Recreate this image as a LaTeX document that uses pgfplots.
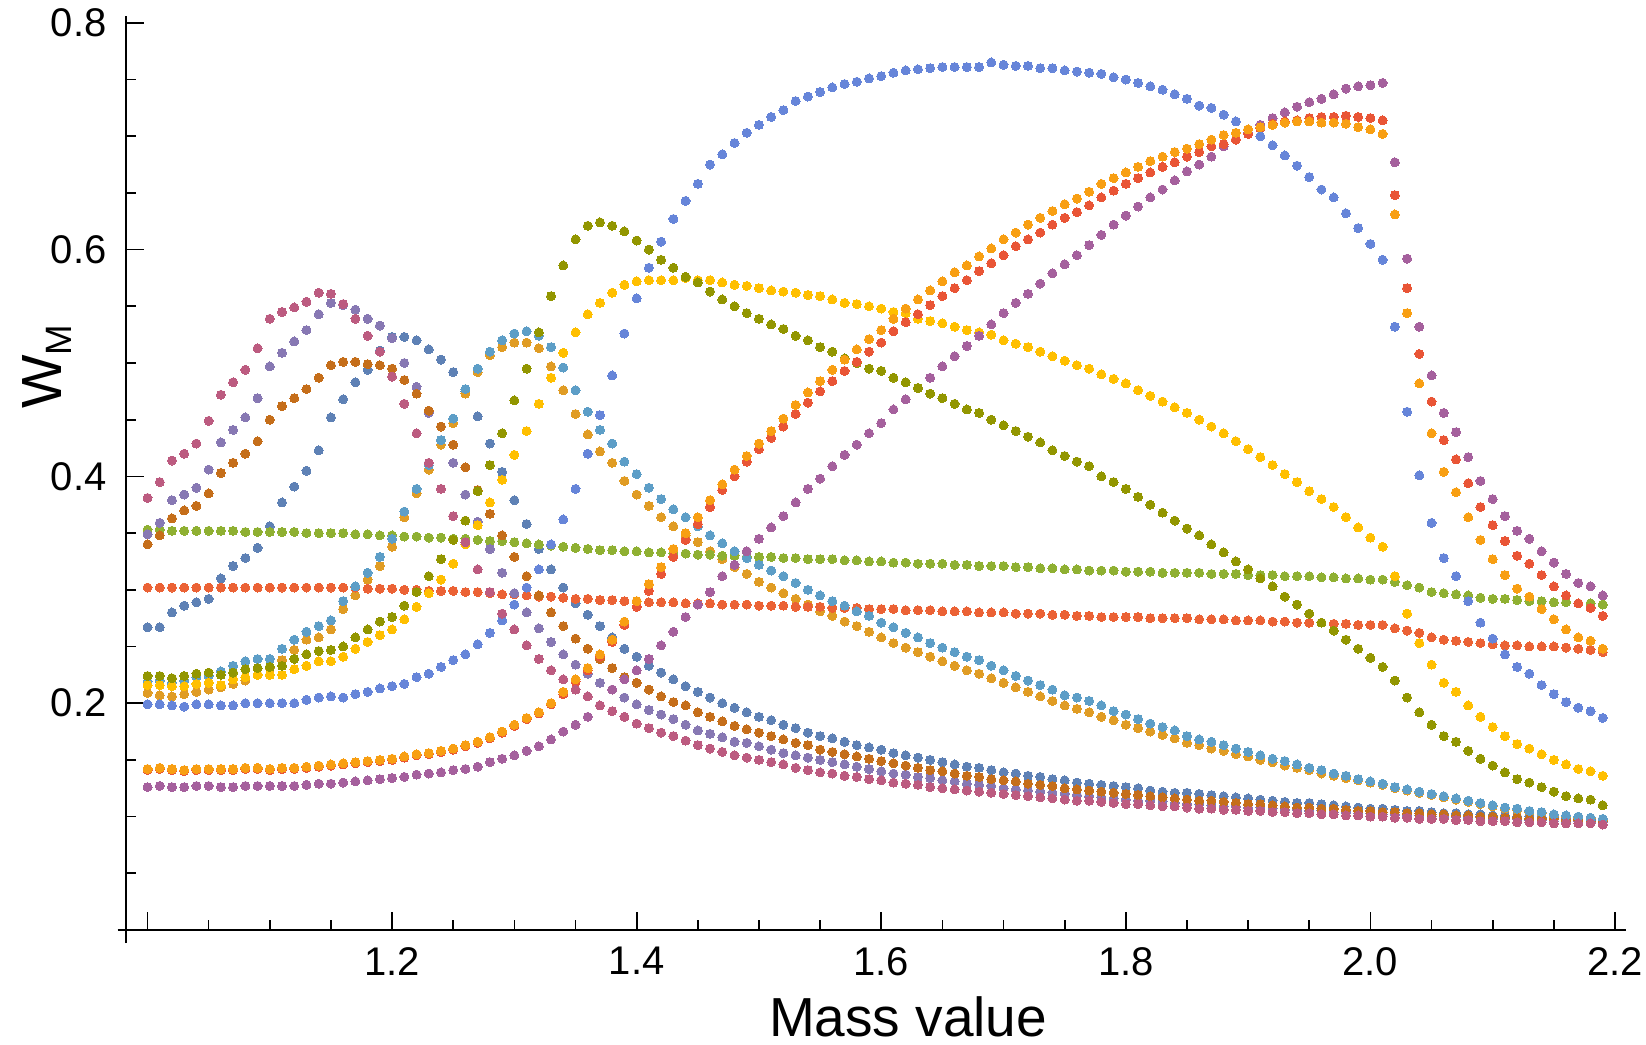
\documentclass[border=0pt]{standalone}
\usepackage{pgfplots}
\pgfplotsset{compat=1.18}
\usepackage{pgfplotstable}
\usepackage{fontspec}
\setmainfont{Liberation Sans}
\definecolor{c1}{HTML}{5E81B5}
\definecolor{c2}{HTML}{E09C24}
\definecolor{c3}{HTML}{8FB032}
\definecolor{c4}{HTML}{EB6235}
\definecolor{c5}{HTML}{8778B3}
\definecolor{c6}{HTML}{C56E1A}
\definecolor{c7}{HTML}{5D9EC7}
\definecolor{c8}{HTML}{FFBF00}
\definecolor{c9}{HTML}{A5609D}
\definecolor{c10}{HTML}{929600}
\definecolor{c11}{HTML}{E95536}
\definecolor{c12}{HTML}{6685D9}
\definecolor{c13}{HTML}{F89F13}
\definecolor{c14}{HTML}{BC5B80}

\pgfplotstableread[header=false]{
x 1.00 1.01 1.02 1.03 1.04 1.05 1.06 1.07 1.08 1.09 1.10 1.11 1.12 1.13 1.14 1.15 1.16 1.17 1.18 1.19 1.20 1.21 1.22 1.23 1.24 1.25 1.26 1.27 1.28 1.29 1.30 1.31 1.32 1.33 1.34 1.35 1.36 1.37 1.38 1.39 1.40 1.41 1.42 1.43 1.44 1.45 1.46 1.47 1.48 1.49 1.50 1.51 1.52 1.53 1.54 1.55 1.56 1.57 1.58 1.59 1.60 1.61 1.62 1.63 1.64 1.65 1.66 1.67 1.68 1.69 1.70 1.71 1.72 1.73 1.74 1.75 1.76 1.77 1.78 1.79 1.80 1.81 1.82 1.83 1.84 1.85 1.86 1.87 1.88 1.89 1.90 1.91 1.92 1.93 1.94 1.95 1.96 1.97 1.98 1.99 2.00 2.01 2.02 2.03 2.04 2.05 2.06 2.07 2.08 2.09 2.10 2.11 2.12 2.13 2.14 2.15 2.16 2.17 2.18 2.19
A 0.381 0.395 0.414 0.420 0.429 0.449 0.472 0.483 0.494 0.513 0.539 0.545 0.549 0.554 0.562 0.561 0.552 0.539 0.524 0.510 0.488 0.464 0.438 0.412 0.389 0.365 0.342 0.318 0.298 0.279 0.265 0.251 0.239 0.229 0.221 0.212 0.206 0.198 0.193 0.188 0.182 0.178 0.174 0.171 0.167 0.163 0.160 0.157 0.154 0.152 0.150 0.148 0.146 0.143 0.141 0.139 0.138 0.136 0.135 0.133 0.132 0.130 0.129 0.128 0.126 0.125 0.124 0.123 0.122 0.121 0.120 0.119 0.118 0.117 0.116 0.115 0.114 0.114 0.113 0.112 0.111 0.111 0.110 0.109 0.109 0.108 0.107 0.107 0.106 0.106 0.105 0.105 0.104 0.104 0.103 0.103 0.102 0.102 0.101 0.101 0.100 0.100 0.099 0.099 0.098 0.098 0.098 0.097 0.097 0.096 0.096 0.096 0.095 0.095 0.095 0.094 0.094 0.094 0.094 0.093
B 0.349 0.359 0.379 0.384 0.390 0.406 0.430 0.441 0.452 0.469 0.497 0.509 0.519 0.529 0.543 0.553 0.551 0.547 0.539 0.533 0.522 0.500 0.479 0.456 0.432 0.412 0.384 0.360 0.336 0.315 0.297 0.280 0.266 0.254 0.243 0.234 0.226 0.218 0.212 0.205 0.199 0.194 0.190 0.186 0.181 0.176 0.173 0.170 0.166 0.165 0.162 0.159 0.156 0.154 0.152 0.150 0.148 0.146 0.144 0.142 0.140 0.138 0.137 0.135 0.134 0.132 0.131 0.129 0.128 0.127 0.125 0.124 0.123 0.122 0.121 0.120 0.119 0.118 0.117 0.116 0.115 0.114 0.114 0.113 0.112 0.111 0.111 0.110 0.109 0.109 0.108 0.108 0.107 0.106 0.106 0.105 0.105 0.104 0.104 0.103 0.103 0.102 0.102 0.101 0.101 0.100 0.100 0.100 0.099 0.099 0.098 0.098 0.098 0.097 0.097 0.096 0.096 0.096 0.095 0.095
C 0.340 0.348 0.363 0.370 0.374 0.385 0.403 0.412 0.420 0.431 0.450 0.462 0.469 0.477 0.487 0.498 0.501 0.501 0.499 0.498 0.495 0.485 0.473 0.458 0.444 0.428 0.408 0.388 0.367 0.348 0.329 0.312 0.295 0.280 0.268 0.257 0.248 0.239 0.231 0.223 0.218 0.212 0.206 0.201 0.198 0.192 0.188 0.184 0.180 0.177 0.174 0.171 0.168 0.165 0.163 0.159 0.157 0.155 0.153 0.151 0.149 0.147 0.145 0.143 0.141 0.140 0.138 0.136 0.135 0.133 0.132 0.131 0.129 0.128 0.127 0.125 0.124 0.123 0.122 0.121 0.120 0.119 0.118 0.117 0.116 0.115 0.114 0.114 0.113 0.112 0.111 0.111 0.110 0.109 0.108 0.108 0.107 0.107 0.106 0.105 0.105 0.104 0.104 0.103 0.103 0.102 0.102 0.101 0.101 0.100 0.100 0.099 0.099 0.098 0.098 0.098 0.097 0.097 0.096 0.096
D 0.267 0.267 0.280 0.286 0.289 0.292 0.310 0.321 0.328 0.337 0.356 0.377 0.391 0.405 0.423 0.452 0.468 0.483 0.494 0.511 0.523 0.523 0.520 0.512 0.503 0.492 0.475 0.453 0.429 0.404 0.379 0.358 0.336 0.318 0.302 0.288 0.278 0.268 0.258 0.248 0.241 0.233 0.227 0.221 0.215 0.210 0.205 0.200 0.196 0.192 0.188 0.185 0.181 0.178 0.174 0.171 0.169 0.166 0.163 0.161 0.159 0.156 0.154 0.152 0.150 0.148 0.146 0.144 0.143 0.141 0.139 0.138 0.136 0.135 0.133 0.132 0.130 0.129 0.128 0.127 0.126 0.125 0.123 0.122 0.121 0.121 0.120 0.119 0.118 0.117 0.116 0.115 0.114 0.113 0.112 0.112 0.111 0.110 0.109 0.108 0.107 0.107 0.106 0.105 0.105 0.104 0.103 0.103 0.102 0.102 0.101 0.101 0.100 0.100 0.099 0.099 0.098 0.098 0.097 0.097
E 0.219 0.220 0.218 0.220 0.223 0.224 0.228 0.233 0.237 0.239 0.239 0.248 0.256 0.263 0.268 0.273 0.290 0.303 0.315 0.329 0.345 0.369 0.389 0.410 0.432 0.451 0.477 0.495 0.510 0.520 0.526 0.528 0.524 0.514 0.496 0.476 0.457 0.441 0.429 0.413 0.402 0.390 0.380 0.371 0.364 0.356 0.348 0.341 0.334 0.328 0.322 0.317 0.312 0.306 0.300 0.295 0.290 0.286 0.281 0.277 0.271 0.267 0.262 0.258 0.253 0.249 0.245 0.241 0.238 0.233 0.229 0.224 0.220 0.216 0.212 0.207 0.205 0.202 0.198 0.193 0.190 0.186 0.182 0.179 0.176 0.171 0.168 0.166 0.163 0.160 0.157 0.154 0.151 0.149 0.146 0.143 0.141 0.138 0.136 0.133 0.131 0.129 0.126 0.124 0.122 0.120 0.118 0.116 0.114 0.112 0.110 0.108 0.107 0.105 0.104 0.102 0.101 0.100 0.099 0.098
F 0.209 0.207 0.206 0.208 0.210 0.212 0.214 0.217 0.220 0.225 0.231 0.238 0.247 0.256 0.258 0.265 0.283 0.295 0.309 0.321 0.338 0.364 0.385 0.406 0.428 0.447 0.473 0.492 0.507 0.514 0.518 0.518 0.513 0.497 0.476 0.455 0.437 0.422 0.412 0.396 0.384 0.374 0.364 0.356 0.348 0.342 0.334 0.327 0.320 0.314 0.307 0.302 0.297 0.292 0.287 0.281 0.277 0.272 0.268 0.263 0.258 0.253 0.249 0.245 0.241 0.237 0.233 0.229 0.226 0.222 0.218 0.214 0.210 0.206 0.202 0.198 0.195 0.192 0.188 0.185 0.181 0.178 0.175 0.172 0.169 0.165 0.163 0.160 0.158 0.155 0.153 0.150 0.148 0.145 0.143 0.141 0.138 0.136 0.134 0.132 0.130 0.128 0.125 0.123 0.121 0.119 0.117 0.115 0.113 0.111 0.109 0.107 0.106 0.104 0.103 0.101 0.100 0.099 0.098 0.097
G 0.224 0.224 0.222 0.224 0.226 0.227 0.225 0.227 0.230 0.231 0.232 0.233 0.239 0.243 0.246 0.247 0.250 0.258 0.265 0.272 0.276 0.286 0.298 0.312 0.327 0.344 0.361 0.387 0.410 0.438 0.467 0.495 0.527 0.559 0.586 0.609 0.621 0.624 0.621 0.616 0.608 0.600 0.591 0.584 0.576 0.571 0.563 0.556 0.550 0.544 0.539 0.534 0.530 0.524 0.520 0.514 0.510 0.504 0.500 0.495 0.493 0.487 0.483 0.478 0.473 0.469 0.464 0.459 0.456 0.450 0.445 0.440 0.435 0.430 0.423 0.418 0.413 0.409 0.400 0.395 0.389 0.382 0.375 0.368 0.361 0.354 0.348 0.340 0.333 0.325 0.318 0.310 0.303 0.294 0.287 0.279 0.271 0.264 0.256 0.248 0.240 0.232 0.220 0.205 0.192 0.181 0.171 0.166 0.158 0.151 0.145 0.139 0.133 0.130 0.126 0.122 0.118 0.116 0.115 0.110
H 0.216 0.216 0.215 0.215 0.217 0.218 0.216 0.221 0.223 0.225 0.225 0.225 0.230 0.233 0.237 0.237 0.241 0.248 0.254 0.260 0.265 0.274 0.285 0.297 0.309 0.323 0.340 0.357 0.377 0.397 0.419 0.440 0.464 0.487 0.509 0.527 0.543 0.553 0.562 0.569 0.572 0.573 0.573 0.573 0.575 0.573 0.573 0.571 0.569 0.568 0.566 0.564 0.563 0.562 0.560 0.559 0.556 0.553 0.552 0.550 0.548 0.545 0.544 0.539 0.537 0.535 0.532 0.529 0.527 0.525 0.520 0.517 0.514 0.510 0.506 0.502 0.498 0.495 0.490 0.486 0.482 0.476 0.471 0.466 0.461 0.456 0.450 0.444 0.438 0.431 0.424 0.417 0.410 0.402 0.395 0.387 0.380 0.373 0.364 0.355 0.346 0.338 0.312 0.279 0.253 0.234 0.218 0.210 0.198 0.188 0.179 0.171 0.164 0.160 0.155 0.150 0.146 0.142 0.140 0.136
I 0.199 0.199 0.198 0.197 0.199 0.199 0.198 0.198 0.200 0.200 0.200 0.200 0.200 0.203 0.205 0.206 0.205 0.208 0.210 0.213 0.215 0.217 0.223 0.226 0.232 0.238 0.243 0.252 0.262 0.273 0.287 0.302 0.318 0.340 0.362 0.389 0.420 0.454 0.489 0.526 0.557 0.584 0.607 0.627 0.643 0.658 0.675 0.684 0.694 0.703 0.710 0.717 0.723 0.731 0.735 0.739 0.743 0.746 0.748 0.751 0.753 0.756 0.758 0.759 0.760 0.761 0.761 0.761 0.761 0.765 0.763 0.762 0.762 0.760 0.760 0.758 0.757 0.756 0.755 0.752 0.750 0.747 0.744 0.741 0.737 0.733 0.727 0.725 0.719 0.713 0.706 0.700 0.692 0.683 0.674 0.664 0.653 0.646 0.632 0.619 0.605 0.591 0.532 0.457 0.401 0.359 0.328 0.312 0.290 0.271 0.257 0.243 0.232 0.226 0.216 0.208 0.201 0.196 0.193 0.187
J 0.142 0.143 0.142 0.141 0.142 0.142 0.142 0.142 0.143 0.143 0.142 0.143 0.143 0.144 0.145 0.146 0.147 0.148 0.149 0.150 0.151 0.153 0.155 0.156 0.158 0.160 0.163 0.166 0.170 0.175 0.181 0.187 0.192 0.200 0.210 0.221 0.231 0.243 0.256 0.272 0.290 0.305 0.320 0.336 0.350 0.364 0.379 0.393 0.406 0.418 0.429 0.440 0.451 0.463 0.474 0.484 0.494 0.503 0.512 0.521 0.529 0.539 0.548 0.556 0.564 0.572 0.580 0.586 0.594 0.601 0.609 0.615 0.622 0.628 0.634 0.640 0.645 0.651 0.658 0.663 0.668 0.673 0.678 0.682 0.686 0.689 0.693 0.697 0.701 0.703 0.706 0.708 0.710 0.712 0.713 0.713 0.712 0.712 0.711 0.708 0.706 0.702 0.631 0.544 0.482 0.438 0.404 0.386 0.364 0.344 0.327 0.313 0.301 0.294 0.283 0.274 0.265 0.258 0.255 0.248
K 0.141 0.142 0.141 0.140 0.141 0.141 0.141 0.141 0.142 0.142 0.141 0.142 0.142 0.143 0.144 0.145 0.146 0.147 0.148 0.149 0.150 0.152 0.154 0.155 0.157 0.159 0.162 0.165 0.169 0.174 0.180 0.186 0.191 0.199 0.208 0.219 0.229 0.241 0.254 0.269 0.285 0.299 0.314 0.329 0.344 0.358 0.373 0.388 0.400 0.413 0.424 0.434 0.444 0.455 0.465 0.475 0.484 0.493 0.501 0.510 0.518 0.528 0.536 0.543 0.551 0.559 0.566 0.573 0.581 0.588 0.595 0.603 0.609 0.615 0.622 0.628 0.633 0.639 0.646 0.652 0.658 0.663 0.668 0.673 0.677 0.682 0.686 0.691 0.693 0.697 0.702 0.707 0.711 0.713 0.714 0.716 0.717 0.717 0.718 0.717 0.716 0.714 0.648 0.566 0.508 0.466 0.432 0.415 0.394 0.373 0.357 0.343 0.330 0.323 0.313 0.303 0.295 0.288 0.284 0.277
L 0.126 0.127 0.126 0.126 0.127 0.127 0.126 0.126 0.127 0.127 0.127 0.127 0.127 0.128 0.129 0.129 0.130 0.131 0.132 0.133 0.134 0.135 0.137 0.138 0.139 0.141 0.142 0.144 0.148 0.151 0.154 0.158 0.162 0.168 0.175 0.181 0.188 0.198 0.212 0.221 0.229 0.239 0.251 0.263 0.276 0.287 0.298 0.312 0.322 0.334 0.345 0.355 0.365 0.377 0.389 0.398 0.409 0.419 0.428 0.438 0.447 0.459 0.468 0.478 0.487 0.497 0.506 0.515 0.524 0.534 0.544 0.553 0.561 0.570 0.579 0.587 0.595 0.604 0.613 0.622 0.630 0.638 0.646 0.653 0.661 0.669 0.675 0.682 0.691 0.697 0.703 0.710 0.716 0.721 0.726 0.730 0.733 0.737 0.742 0.744 0.745 0.747 0.677 0.592 0.532 0.489 0.456 0.439 0.417 0.396 0.380 0.365 0.352 0.345 0.334 0.324 0.314 0.306 0.303 0.295
M 0.353 0.353 0.352 0.352 0.352 0.352 0.352 0.352 0.351 0.351 0.351 0.351 0.351 0.350 0.350 0.350 0.350 0.349 0.349 0.348 0.348 0.347 0.347 0.346 0.346 0.345 0.345 0.344 0.343 0.343 0.342 0.341 0.340 0.339 0.338 0.337 0.336 0.335 0.335 0.334 0.334 0.333 0.333 0.332 0.332 0.331 0.331 0.330 0.330 0.329 0.329 0.329 0.328 0.328 0.327 0.327 0.327 0.326 0.326 0.325 0.325 0.324 0.324 0.323 0.323 0.323 0.322 0.322 0.321 0.321 0.321 0.320 0.320 0.319 0.319 0.318 0.318 0.317 0.317 0.317 0.316 0.316 0.316 0.315 0.315 0.315 0.315 0.314 0.314 0.314 0.313 0.313 0.313 0.312 0.312 0.312 0.311 0.311 0.310 0.310 0.309 0.309 0.307 0.304 0.302 0.298 0.297 0.296 0.295 0.293 0.292 0.292 0.291 0.290 0.290 0.289 0.289 0.288 0.288 0.287
N 0.302 0.302 0.302 0.302 0.302 0.302 0.302 0.302 0.302 0.302 0.302 0.302 0.302 0.302 0.302 0.302 0.302 0.302 0.301 0.301 0.301 0.300 0.300 0.299 0.299 0.299 0.298 0.298 0.297 0.296 0.296 0.295 0.294 0.294 0.293 0.292 0.292 0.291 0.291 0.290 0.290 0.289 0.289 0.289 0.288 0.288 0.288 0.287 0.287 0.287 0.286 0.286 0.286 0.285 0.285 0.285 0.284 0.284 0.284 0.283 0.283 0.283 0.282 0.282 0.282 0.281 0.281 0.281 0.280 0.280 0.280 0.279 0.279 0.279 0.278 0.278 0.277 0.277 0.276 0.276 0.276 0.276 0.275 0.275 0.275 0.275 0.274 0.274 0.274 0.273 0.273 0.273 0.272 0.272 0.271 0.271 0.271 0.270 0.270 0.269 0.269 0.269 0.266 0.264 0.262 0.258 0.256 0.255 0.254 0.253 0.252 0.251 0.251 0.250 0.250 0.250 0.249 0.248 0.247 0.245
}\rawtable
\pgfplotstabletranspose[colnames from=0]{\datatable}{\rawtable}

\pgfplotsset{
  dots/.style={only marks, mark=*, mark size=1.35pt, color=#1, mark options={solid, draw=#1, fill=#1, line width=0pt}},
}

\begin{document}
\begin{tikzpicture}
\path[use as bounding box] (-37.8pt,-34.5pt) rectangle (456pt,279pt);
\begin{axis}[
  at={(0,0)}, anchor=south west,
  scale only axis, width=450pt, height=274.2pt,
  xmin=0.9824, xmax=2.209, ymin=0, ymax=0.806,
  axis lines=left, axis line style={-, line width=0.5pt},
  tick align=inside,
  xtick={1.0,1.2,1.4,1.6,1.8,2.0,2.2},
  xticklabels={,1.2,1.4,1.6,1.8,2.0,2.2},
  ytick={0.2,0.4,0.6,0.8},
  yticklabels={0.2,0.4,0.6,0.8},
  minor xtick={1.05,1.10,1.15,1.25,1.30,1.35,1.45,1.50,1.55,1.65,1.70,1.75,1.85,1.90,1.95,2.05,2.10,2.15},
  minor ytick={0.05,0.10,0.15,0.25,0.30,0.35,0.45,0.50,0.55,0.65,0.70,0.75},
  major tick length=5.4pt, minor tick length=3pt,
  every tick/.style={black, line width=0.5pt},
  ticklabel style={font=\fontsize{12}{14}\selectfont},
  xticklabel style={yshift=-1.7pt},
  yticklabel style={xshift=-2.3pt},
  clip=false,
]
\addplot[dots=c1] table[x=x, y=D] {\datatable};
\addplot[dots=c2] table[x=x, y=F] {\datatable};
\addplot[dots=c3] table[x=x, y=M] {\datatable};
\addplot[dots=c4] table[x=x, y=N] {\datatable};
\addplot[dots=c5] table[x=x, y=B] {\datatable};
\addplot[dots=c6] table[x=x, y=C] {\datatable};
\addplot[dots=c7] table[x=x, y=E] {\datatable};
\addplot[dots=c8] table[x=x, y=H] {\datatable};
\addplot[dots=c9] table[x=x, y=L] {\datatable};
\addplot[dots=c10] table[x=x, y=G] {\datatable};
\addplot[dots=c11] table[x=x, y=K] {\datatable};
\addplot[dots=c12] table[x=x, y=I] {\datatable};
\addplot[dots=c13] table[x=x, y=J] {\datatable};
\addplot[dots=c14] table[x=x, y=A] {\datatable};
\draw[line width=0.5pt] (axis cs:0.9755,0) -- (axis cs:0.9824,0);
\draw[line width=0.5pt] (axis cs:0.9824,-0.0115) -- (axis cs:0.9824,0);
\node[font=\fontsize{16.5}{19}\selectfont] at (axis cs:1.622,-0.077) {Mass value};
\node[rotate=90, font=\fontsize{17}{20}\selectfont] at (axis cs:0.918,0.4965) {W\raisebox{-0.35ex}{\fontsize{11}{12}\selectfont M}};
\end{axis}
\end{tikzpicture}
\end{document}
